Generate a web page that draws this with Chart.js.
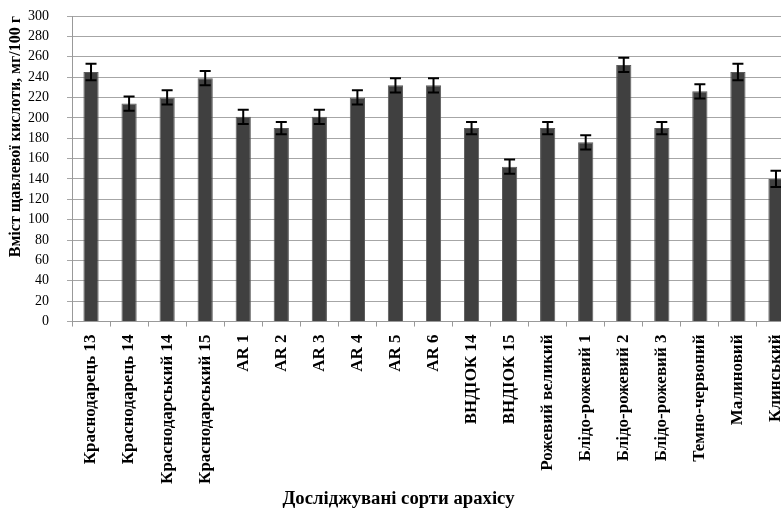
<!DOCTYPE html>
<html>
<head>
<meta charset="utf-8">
<script src="https://cdn.jsdelivr.net/npm/chart.js@4"></script>
<style>
  html, body { margin: 0; padding: 0; background: #fff; overflow: hidden; }
  #wrap { width: 800px; height: 510px; }
</style>
</head>
<body>
<div id="wrap"><canvas id="bar-chart" width="800" height="510"></canvas></div>
<script>
// сорти арахісу
const varieties = ['Краснодарець 13', 'Краснодарець 14', 'Краснодарський 14', 'Краснодарський 15',
    'AR 1', 'AR 2', 'AR 3', 'AR 4', 'AR 5', 'AR 6', 'ВНДІОК 14', 'ВНДІОК 15',
    'Рожевий великий', 'Блідо-рожевий 1', 'Блідо-рожевий 2', 'Блідо-рожевий 3',
    'Темно-червоний', 'Малиновий', 'Клинський'];
// вміст щавлевої кислоти, мг/100 г
const oxalic = [245, 214, 220, 239, 201, 190, 201, 220, 232, 232, 190, 152, 190, 176, 252, 190, 226, 245, 140];
const oxalicErr = [8, 7, 7, 7, 7, 6, 7, 7, 7, 7, 6, 7, 6, 7, 7, 6, 7, 8, 8];

const yMin = 0;
const yMax = 300;
const yStep = 20;

const serif = "'Liberation Serif', 'Times New Roman', serif";

// error bars drawn through the y scale
const errorBars = {
    id: 'errorBars',
    afterDatasetsDraw(chart) {
        const ctx = chart.ctx;
        const yScale = chart.scales.y;
        const meta = chart.getDatasetMeta(0);
        ctx.save();
        ctx.strokeStyle = '#000';
        ctx.lineWidth = 2;
        meta.data.forEach((bar, i) => {
            const x = bar.x;
            const top = yScale.getPixelForValue(oxalic[i] + oxalicErr[i]);
            const bottom = yScale.getPixelForValue(oxalic[i] - oxalicErr[i]);
            ctx.beginPath();
            ctx.moveTo(x, top);
            ctx.lineTo(x, bottom);
            ctx.moveTo(x - 5.5, top);
            ctx.lineTo(x + 5.5, top);
            ctx.moveTo(x - 5.5, bottom);
            ctx.lineTo(x + 5.5, bottom);
            ctx.stroke();
        });
        ctx.restore();
    }
};

const data = {
    labels: varieties,
    datasets: [{
        data: oxalic,
        backgroundColor: '#404040',
        borderColor: '#5c5c5c',
        borderWidth: 1,
        barPercentage: 0.4,
        categoryPercentage: 1.0
    }]
};

const config = {
    type: 'bar',
    data: data,
    options: {
        responsive: false,
        animation: false,
        layout: { padding: { left: 2, top: 16, right: 5, bottom: 0 } },
        plugins: {
            legend: { display: false },
            tooltip: { enabled: false },
            title: {
                display: true,
                position: 'bottom',
                text: 'Досліджувані сорти арахісу',
                color: '#000',
                font: { family: serif, size: 18.7, weight: 'bold' },
                padding: { top: 0, bottom: 0 }
            }
        },
        scales: {
            x: {
                offset: true,
                afterFit(scale) {
                    scale.height = 166;
                    scale.paddingLeft = 0;
                    scale.paddingRight = 0;
                },
                grid: {
                    offset: true,
                    drawOnChartArea: false,
                    drawTicks: true,
                    tickLength: 5,
                    color: '#999'
                },
                border: { color: '#999' },
                ticks: {
                    autoSkip: false,
                    minRotation: 90,
                    maxRotation: 90,
                    padding: 8,
                    color: '#000',
                    font: { family: serif, size: 17, weight: 'bold' }
                }
            },
            y: {
                min: yMin,
                max: yMax,
                afterFit(scale) {
                    scale.width = 70;
                    scale.paddingTop = 0;
                    scale.paddingBottom = 0;
                },
                grid: {
                    color: '#a6a6a6',
                    tickLength: 5
                },
                border: { color: '#999' },
                ticks: {
                    autoSkip: false,
                    stepSize: yStep,
                    padding: 18,
                    color: '#000',
                    font: { family: serif, size: 14 }
                },
                title: {
                    display: true,
                    align: 'end',
                    text: 'Вміст щавлевої кислоти, мг/100 г',
                    color: '#000',
                    font: { family: serif, size: 16, weight: 'bold' },
                    padding: { top: 4, bottom: 4 }
                }
            }
        }
    },
    plugins: [errorBars]
};

let chart = new Chart('bar-chart', config);
</script>
</body>
</html>
